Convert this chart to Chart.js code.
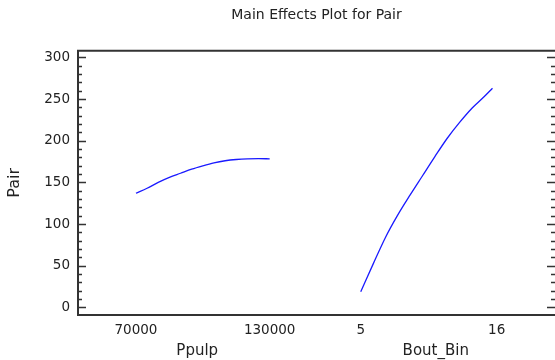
<!DOCTYPE html>
<html>
<head>
<meta charset="utf-8">
<script src="https://cdn.jsdelivr.net/npm/chart.js@4/dist/chart.umd.min.js"></script>
<style>
  body { margin: 0; background: #fff; }
  #wrap { width: 555px; height: 360px; }
</style>
</head>
<body>
<div id="wrap"><canvas id="mainEffects"></canvas></div>
<script>
// values
var ppulpX = [70000, 75000, 80000, 85000, 90000, 95000, 100000, 105000, 110000, 115000, 120000, 125000, 130000];
var ppulpY = [137, 143, 150, 156, 161, 166, 170, 173.5, 176, 177.5, 178.3, 178.5, 178.3];
var boutX = [5, 6, 7, 8, 9, 10, 11, 12, 13, 14, 15, 15.66];
var boutY = [19, 52, 84, 111, 135, 158, 181, 203, 222, 239, 253, 263];

var ppulpTicks = [70000, 130000];
var boutTicks = [5, 16];
var yTicks = [0, 50, 100, 150, 200, 250, 300];
var yMinorStep = 10;

function pts(xs, ys) { return xs.map(function (x, i) { return { x: x, y: ys[i] }; }); }

// frame (right side falls off the canvas) + inward ticks on left and right
var framePlugin = {
  id: 'frame',
  afterDatasetsDraw: function (chart) {
    var a = chart.chartArea, c = chart.ctx, y = chart.scales.y;
    c.save();
    c.strokeStyle = '#333';
    c.lineWidth = 2;
    c.beginPath();
    c.moveTo(a.right + 2, a.top); c.lineTo(a.left, a.top);
    c.lineTo(a.left, a.bottom); c.lineTo(a.right + 2, a.bottom);
    c.stroke();
    c.lineWidth = 1.5;
    c.beginPath();
    for (var v = 0; v <= 300; v += yMinorStep) {
      var py = Math.round(y.getPixelForValue(v)) + 0.5;
      var len = (v % 50 === 0) ? 8 : 4;
      c.moveTo(a.left, py); c.lineTo(a.left + len, py);
      c.moveTo(a.right, py); c.lineTo(a.right - len, py);
    }
    c.stroke();
    c.restore();
  }
};

var fam = '"DejaVu Sans", Verdana, sans-serif';
var tickFont = { family: fam, size: 13.5 };

function xScale(min, max, ticks, title) {
  return {
    type: 'linear', position: 'bottom', stack: 'x', stackWeight: 1,
    min: min, max: max,
    afterBuildTicks: function (s) { s.ticks = ticks.map(function (v) { return { value: v }; }); },
    afterFit: function (s) { s.height = 45; s.paddingLeft = 0; s.paddingRight = 0; },
    grid: { display: false, drawTicks: false }, border: { display: false },
    ticks: { color: '#222', font: tickFont, padding: 7, maxRotation: 0, autoSkip: false,
             callback: function (v) { return String(v); } },
    title: { display: true, text: title, color: '#222', font: { family: fam, size: 15 },
             padding: { top: 2, bottom: 0 } }
  };
}

new Chart(document.getElementById('mainEffects'), {
  type: 'line',
  data: {
    datasets: [
      { label: 'Ppulp', data: pts(ppulpX, ppulpY), xAxisID: 'x', yAxisID: 'y',
        borderColor: '#1a1aff', borderWidth: 1.3, pointRadius: 0,
        cubicInterpolationMode: 'monotone', fill: false },
      { label: 'Bout_Bin', data: pts(boutX, boutY), xAxisID: 'x2', yAxisID: 'y',
        borderColor: '#1a1aff', borderWidth: 1.3, pointRadius: 0,
        cubicInterpolationMode: 'monotone', fill: false }
    ]
  },
  options: {
    responsive: true, maintainAspectRatio: false, animation: false,
    layout: { padding: 0 },
    plugins: {
      legend: { display: false },
      tooltip: { enabled: false },
      title: { display: true, fullSize: false, text: 'Main Effects Plot for Pair', color: '#222',
               font: { family: fam, size: 14, weight: 'normal' }, padding: { top: 6.6, bottom: 27.3 } }
    },
    scales: {
      x: xScale(44000, 151000, ppulpTicks, 'Ppulp'),
      x2: xScale(1.42, 20.72, boutTicks, 'Bout_Bin'),
      y: {
        min: -9, max: 308,
        afterBuildTicks: function (s) { s.ticks = yTicks.map(function (v) { return { value: v }; }); },
        afterFit: function (s) { s.width = 78; },
        grid: { display: false, drawTicks: false }, border: { display: false },
        ticks: { color: '#222', font: tickFont, padding: 8 },
        title: { display: true, text: 'Pair', color: '#222',
                 font: { family: fam, size: 16 }, padding: { top: 5.4, bottom: 0 } }
      }
    }
  },
  plugins: [framePlugin]
});
</script>
</body>
</html>
